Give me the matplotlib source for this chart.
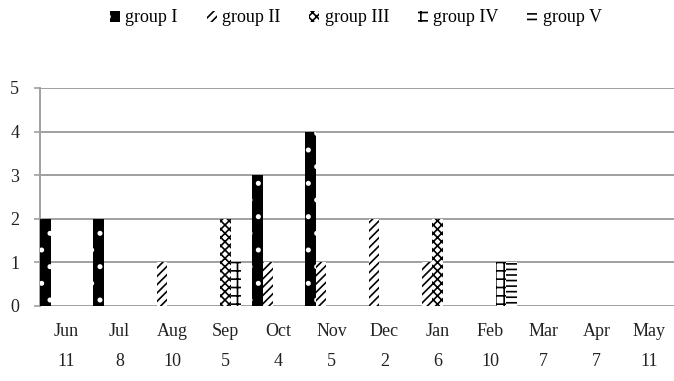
import matplotlib
matplotlib.use("Agg")
import matplotlib.pyplot as plt
import numpy as np

months = ["Jun", "Jul", "Aug", "Sep", "Oct", "Nov", "Dec", "Jan", "Feb", "Mar", "Apr", "May"]
counts = ["11", "8", "10", "5", "4", "5", "2", "6", "10", "7", "7", "11"]
group_names = ["group I", "group II", "group III", "group IV", "group V"]
group_I   = [2, 2, 0, 0, 3, 4, 0, 0, 0, 0, 0, 0]
group_II  = [0, 0, 1, 0, 1, 1, 2, 1, 0, 0, 0, 0]
group_III = [0, 0, 0, 2, 0, 0, 0, 2, 0, 0, 0, 0]
group_IV  = [0, 0, 0, 1, 0, 0, 0, 0, 1, 0, 0, 0]
group_V   = [0, 0, 0, 0, 0, 0, 0, 0, 1, 0, 0, 0]
series = [group_I, group_II, group_III, group_IV, group_V]

plt.rcParams['font.family'] = ['Liberation Serif', 'DejaVu Serif']
plt.rcParams['hatch.linewidth'] = 1.2

W, H = 674, 381
fig = plt.figure(figsize=(W / 100, H / 100), dpi=100)
ax = fig.add_axes([40 / W, 1 - 306 / H, (W - 40) / W, (306 - 88) / H])

styles = [
    dict(facecolor="black", edgecolor="white", hatch="."),
    dict(facecolor="white", edgecolor="black", hatch="////"),
    dict(facecolor="white", edgecolor="black", hatch="xxxx"),
    dict(facecolor="white", edgecolor="black", hatch="++"),
    dict(facecolor="white", edgecolor="black", hatch="---"),
]

x = np.arange(len(months))
bw = 0.2
handles = []
for j, (vals, st, name) in enumerate(zip(series, styles, group_names)):
    b = ax.bar(x + (j + 0.5) * bw, vals, width=bw, linewidth=0, label=name,
               zorder=3, **st)
    handles.append(b)

ax.set_xlim(0, (W - 40) / 53.0)
ax.set_ylim(0, 5)
ax.set_yticks(range(0, 6))
ax.yaxis.grid(True, color="#a0a0a0", linewidth=1.4, zorder=0)
ax.set_axisbelow(True)
for s in ["top", "right", "bottom"]:
    ax.spines[s].set_visible(False)
ax.spines["left"].set_color("#a0a0a0")
ax.spines["left"].set_linewidth(1.4)
ax.tick_params(axis="y", length=4, width=1.2, color="#a0a0a0", pad=11,
               labelsize=13, labelcolor="#222222")

ax.set_xticks(x + 0.5)
ax.set_xticklabels(months)
ax.tick_params(axis="x", length=0, pad=12, labelsize=13, labelcolor="#222222")

trans = matplotlib.transforms.blended_transform_factory(ax.transData, ax.transAxes)
for xi, c in zip(x, counts):
    ax.text(xi + 0.5, -56 / 218, c, transform=trans, ha="center", va="center",
            fontsize=13, color="#222222")

fig.legend(handles=handles, loc="center", bbox_to_anchor=(0.528, 1 - 18 / H),
           ncol=5, frameon=False, fontsize=13, handlelength=0.55, handleheight=0.55,
           handletextpad=0.3, columnspacing=1.6)

fig.savefig("out.png", dpi=100)
